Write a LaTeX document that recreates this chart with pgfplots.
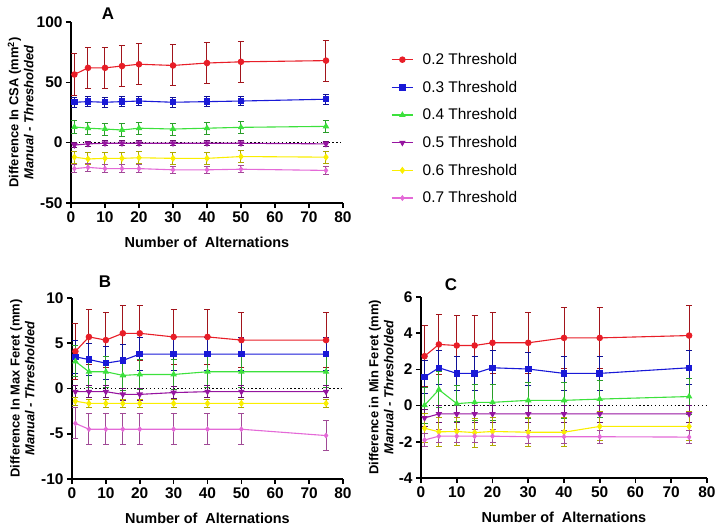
\documentclass[border=0pt]{standalone}
\usepackage{fontspec}
\setmainfont{Liberation Sans}
\usepackage{pgfplots}
\usepackage{pgfplotstable}
\pgfplotsset{compat=1.18}
\definecolor{cR}{RGB}{232,30,40}
\definecolor{cB}{RGB}{25,25,215}
\definecolor{cG}{RGB}{60,225,60}
\definecolor{cP}{RGB}{150,20,160}
\definecolor{cY}{RGB}{250,238,0}
\definecolor{cK}{RGB}{228,105,215}

\pgfplotstableread{
x r re b be g ge p pe y ye k ke
1 56.5 17 33.5 4 13.0 5 -2.0 2 -12.0 5 -21.5 3
5 62.0 17 34.0 4 12.0 5 -1.0 2 -13.5 5 -20.5 3
10 62.0 17 33.5 4 11.3 5 -0.5 2 -13.0 5 -21.5 3
15 63.5 17 34.0 4 10.5 5 -0.5 2 -13.0 5 -21.5 3
20 65.0 17 34.5 4 12.0 5 -0.5 2 -12.5 5 -21.5 3
30 64.0 17 33.5 4 11.3 5 -0.5 2 -13.0 5 -22.5 3
40 66.0 17 34.0 4 12.0 5 -0.5 2 -13.0 5 -22.5 3
50 67.0 17 34.5 4 12.7 5 -0.5 2 -11.5 5 -22.0 3
75 68.0 17 36.0 4 13.5 5 -1.0 2 -12.0 5 -23.0 3
}\dataA

\pgfplotstableread{
x r re b be g ge p pe y ye k ke
1 4.10 3.05 3.50 1.8 3.00 1.7 -0.35 0.65 -1.40 0.45 -3.85 1.7
5 5.70 3.05 3.20 1.8 1.85 1.7 -0.35 0.65 -1.65 0.45 -4.50 1.7
10 5.35 3.05 2.80 1.8 1.85 1.7 -0.35 0.65 -1.65 0.45 -4.50 1.7
15 6.10 3.05 3.10 1.8 1.45 1.7 -0.65 0.65 -1.65 0.45 -4.50 1.7
20 6.10 3.05 3.80 1.8 1.55 1.7 -0.65 0.65 -1.65 0.45 -4.50 1.7
30 5.70 3.05 3.80 1.8 1.55 1.7 -0.45 0.65 -1.65 0.45 -4.50 1.7
40 5.70 3.05 3.80 1.8 1.85 1.7 -0.35 0.65 -1.65 0.45 -4.50 1.7
50 5.35 3.05 3.80 1.8 1.85 1.7 -0.35 0.65 -1.65 0.45 -4.50 1.7
75 5.35 3.05 3.80 1.8 1.85 1.7 -0.35 0.65 -1.65 0.45 -5.20 1.7
}\dataB

\pgfplotstableread{
x r re b be g ge p pe y ye k ke
1 2.73 1.67 1.58 0.93 0.02 1.0 -0.68 0.45 -1.25 0.8 -1.90 0.35
5 3.38 1.67 2.09 0.93 0.88 1.0 -0.46 0.45 -1.45 0.8 -1.69 0.35
10 3.32 1.67 1.78 0.93 0.11 1.0 -0.46 0.45 -1.43 0.8 -1.69 0.35
15 3.32 1.67 1.78 0.93 0.18 1.0 -0.46 0.45 -1.49 0.8 -1.69 0.35
20 3.47 1.67 2.09 0.93 0.18 1.0 -0.46 0.45 -1.43 0.8 -1.69 0.35
30 3.47 1.67 2.02 0.93 0.29 1.0 -0.46 0.45 -1.47 0.8 -1.72 0.35
40 3.74 1.67 1.78 0.93 0.29 1.0 -0.46 0.45 -1.47 0.8 -1.72 0.35
50 3.74 1.67 1.78 0.93 0.36 1.0 -0.46 0.45 -1.15 0.8 -1.72 0.35
75 3.87 1.67 2.09 0.93 0.50 1.0 -0.46 0.45 -1.15 0.8 -1.74 0.35
}\dataC

\pgfplotsset{
  panel/.style={
    scale only axis, anchor=south west,
    axis lines=left, axis line style={-, line width=2bp, black},
    tick style={line width=1.6bp, black}, tick align=outside,
    major tick length=5bp,
    xmin=0, xmax=80, xtick={0,10,...,80},
    /pgf/number format/assume math mode=true,
    ticklabel style={font=\fontsize{15.5}{15.5}\selectfont\bfseries},
    xlabel style={font=\fontsize{14.5}{14.5}\selectfont\bfseries, at={(axis description cs:0.5,-0.22)}, anchor=center},
    ylabel style={font=\fontsize{13}{15}\selectfont\bfseries, align=center, anchor=south},
    xlabel={Number of\ \ Alternations},
    clip=false,
  },
  ser/.style n args={3}{color=#1, line width=1.1bp, mark=#2, mark size=2.7bp,
    mark options={solid, fill=#1, #3},
    error bars/y dir=both, error bars/y explicit,
    error bars/error bar style={color=#1!70!black, line width=1bp},
    error bars/error mark options={rotate=90, mark size=3bp, color=#1!70!black, line width=1bp}},
}

\begin{document}
\begin{tikzpicture}
\useasboundingbox (0,0) rectangle (722bp,-530bp);

% Panel A
\begin{axis}[panel, at={(71bp,-203bp)}, width=272bp, height=181bp,
  ymin=-50, ymax=100, ytick={-50,0,50,100},
  ylabel={Difference In CSA (mm$^{\mathbf{2}}$)\\\textit{Manual - Thresholded}},
  ylabel style={at={(axis description cs:-0.125,0.5)}},
  legend style={at={(1.165,0.85)}, anchor=north west, draw=none, fill=none,
    font=\fontsize{15.5}{15.5}\selectfont, row sep=11bp, cells={anchor=west}},
  legend image code/.code={\draw[#1, mark repeat=2, mark phase=2] plot coordinates {(0cm,0cm) (0.38cm,0cm) (0.76cm,0cm)};\path (0.76cm+7bp,0cm);},
]
\addplot[black, line width=1.3bp, dash pattern=on 1.3bp off 2.6bp, forget plot] coordinates {(0,0) (80,0)};
\addplot[ser={cR}{*}{}] table[x=x, y=r, y error=re] {\dataA};
\addlegendentry{0.2 Threshold}
\addplot[ser={cB}{square*}{}] table[x=x, y=b, y error=be] {\dataA};
\addlegendentry{0.3 Threshold}
\addplot[ser={cG}{triangle*}{}] table[x=x, y=g, y error=ge] {\dataA};
\addlegendentry{0.4 Threshold}
\addplot[ser={cP}{triangle*}{rotate=180}] table[x=x, y=p, y error=pe] {\dataA};
\addlegendentry{0.5 Threshold}
\addplot[ser={cY}{diamond*}{}] table[x=x, y=y, y error=ye] {\dataA};
\addlegendentry{0.6 Threshold}
\addplot[ser={cK}{diamond*}{scale=0.8}] table[x=x, y=k, y error=ke] {\dataA};
\addlegendentry{0.7 Threshold}
\node[font=\fontsize{17}{17}\selectfont\bfseries] at (axis description cs:0.136,1.044) {A};
\end{axis}

% Panel B
\begin{axis}[panel, at={(72bp,-479bp)}, width=271bp, height=181bp,
  ymin=-10, ymax=10, ytick={-10,-5,0,5,10},
  ylabel={Difference In Max Feret (mm)\\\textit{Manual - Thresholded}},
  ylabel style={at={(axis description cs:-0.125,0.5)}},
]
\addplot[black, line width=1.3bp, dash pattern=on 1.3bp off 2.6bp, forget plot] coordinates {(0,0) (80,0)};
\addplot[ser={cR}{*}{}] table[x=x, y=r, y error=re] {\dataB};
\addplot[ser={cB}{square*}{}] table[x=x, y=b, y error=be] {\dataB};
\addplot[ser={cG}{triangle*}{}] table[x=x, y=g, y error=ge] {\dataB};
\addplot[ser={cP}{triangle*}{rotate=180}] table[x=x, y=p, y error=pe] {\dataB};
\addplot[ser={cY}{diamond*}{}] table[x=x, y=y, y error=ye] {\dataB};
\addplot[ser={cK}{diamond*}{scale=0.8}] table[x=x, y=k, y error=ke] {\dataB};
\node[font=\fontsize{17}{17}\selectfont\bfseries] at (axis description cs:0.122,1.088) {B};
\end{axis}

% Panel C
\begin{axis}[panel, at={(421bp,-478bp)}, width=286bp, height=181bp,
  ymin=-4, ymax=6, ytick={-4,-2,0,2,4,6},
  ylabel={Difference in Min Feret (mm)\\\textit{Manual - Thresholded}},
  ylabel style={at={(axis description cs:-0.084,0.5)}},
]
\addplot[black, line width=1.3bp, dash pattern=on 1.3bp off 2.6bp, forget plot] coordinates {(0,0) (80,0)};
\addplot[ser={cR}{*}{}] table[x=x, y=r, y error=re] {\dataC};
\addplot[ser={cB}{square*}{}] table[x=x, y=b, y error=be] {\dataC};
\addplot[ser={cG}{triangle*}{}] table[x=x, y=g, y error=ge] {\dataC};
\addplot[ser={cP}{triangle*}{rotate=180}] table[x=x, y=p, y error=pe] {\dataC};
\addplot[ser={cY}{diamond*}{}] table[x=x, y=y, y error=ye] {\dataC};
\addplot[ser={cK}{diamond*}{scale=0.8}] table[x=x, y=k, y error=ke] {\dataC};
\node[font=\fontsize{17}{17}\selectfont\bfseries] at (axis description cs:0.105,1.066) {C};
\end{axis}
\end{tikzpicture}
\end{document}
